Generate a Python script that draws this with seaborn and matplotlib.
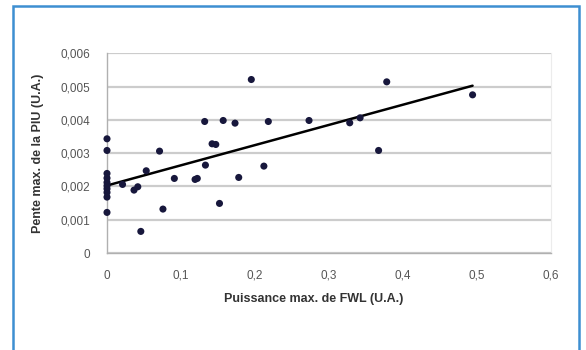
import matplotlib
matplotlib.use("Agg")
import matplotlib.pyplot as plt
import matplotlib.patches as mpatches
import seaborn as sns
import numpy as np
import pandas as pd

# values
puissance = [0.0, 0.0, 0.0, 0.0, 0.0, 0.0, 0.0, 0.0, 0.0, 0.0,
             0.021, 0.0365, 0.0416, 0.0457, 0.053, 0.071, 0.0756, 0.091,
             0.119, 0.122, 0.132, 0.133, 0.142, 0.147, 0.152, 0.157,
             0.173, 0.178, 0.195, 0.212, 0.218, 0.273, 0.328, 0.342,
             0.367, 0.378, 0.494]
pente = [0.00343, 0.00308, 0.00239, 0.00225, 0.00212, 0.00202, 0.00193,
         0.00182, 0.00168, 0.00122,
         0.00206, 0.00189, 0.00199, 0.00065, 0.00247, 0.00306, 0.00132,
         0.00224, 0.00221, 0.00224, 0.00395, 0.00264, 0.00328, 0.00326,
         0.00149, 0.00398, 0.00390, 0.00227, 0.00521, 0.00261, 0.00395,
         0.00398, 0.00391, 0.00406, 0.00308, 0.00514, 0.00475]

x_ticks = [0, 0.1, 0.2, 0.3, 0.4, 0.5, 0.6]
x_labels = ["0", "0,1", "0,2", "0,3", "0,4", "0,5", "0,6"]
y_ticks = [0, 0.001, 0.002, 0.003, 0.004, 0.005, 0.006]
y_labels = ["0", "0,001", "0,002", "0,003", "0,004", "0,005", "0,006"]

df = pd.DataFrame({"puissance": puissance, "pente": pente})

sns.set_style("white")
plt.rcParams["font.family"] = ["Liberation Sans", "DejaVu Sans"]

fig = plt.figure(figsize=(5.86, 3.5), dpi=100)
ax = fig.add_axes([0.1826, 0.277, 0.7577, 0.571])

ax.grid(axis="y", color="#cccccc", linewidth=1.6)
ax.set_axisbelow(True)

sns.scatterplot(data=df, x="puissance", y="pente", ax=ax, color="#17173c",
                s=26, edgecolor="none", zorder=3, clip_on=False)
sns.regplot(data=df, x="puissance", y="pente", ax=ax, scatter=False,
            ci=None, truncate=True, line_kws={"color": "black", "linewidth": 1.8})

ax.set_xlim(0, 0.6)
ax.set_ylim(0, 0.006)
ax.set_xticks(x_ticks)
ax.set_xticklabels(x_labels)
ax.set_yticks(y_ticks)
ax.set_yticklabels(y_labels)
ax.tick_params(labelsize=8.5, colors="#555555", length=3, pad=9)

ax.spines["top"].set_visible(False)
ax.spines["right"].set_color("#ececec")
for side in ["left", "bottom"]:
    ax.spines[side].set_color("#b0b0b0")
    ax.spines[side].set_linewidth(1.0)

ax.set_xlabel("Puissance max. de FWL (U.A.)", fontsize=9, fontweight="bold",
              color="#333333")
ax.xaxis.set_label_coords(0.466, -0.2)
ax.set_ylabel("Pente max. de la PIU (U.A.)", fontsize=9, fontweight="bold",
              color="#333333", labelpad=12)

# light blue frame around the chart
fig.patches.append(mpatches.Rectangle((13 / 586, -0.05), 566 / 586, 1.05 - 6 / 350,
                                      transform=fig.transFigure, fill=False,
                                      edgecolor="#3d8fd1", linewidth=1.8))

fig.savefig("out.png", dpi=100)
plt.close(fig)
